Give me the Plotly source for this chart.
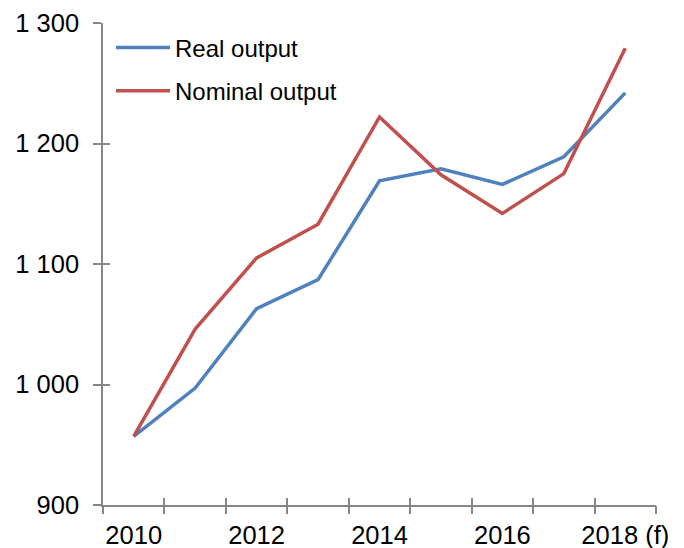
import plotly.graph_objects as go

years = ["2010", "2011", "2012", "2013", "2014", "2015", "2016", "2017", "2018 (f)"]
label_years = ["2010", "2012", "2014", "2016", "2018 (f)"]
real_output = [957, 997, 1063, 1087, 1169, 1179, 1166, 1189, 1242]
nominal_output = [957, 1046, 1105, 1133, 1222, 1174, 1142, 1175, 1279]
y_ticks = [900, 1000, 1100, 1200, 1300]

FAMILY = "Liberation Sans, Arial, sans-serif"
TICKFONT = dict(family=FAMILY, size=25.5, color="#000000")
LEGFONT = dict(family=FAMILY, size=24, color="#000000")
AX = "#868686"

fig = go.Figure()
fig.add_trace(go.Scatter(x=years, y=real_output, mode="lines", name="Real output",
                         line=dict(color="#4F81BD", width=3.5), legendgroup="a"))
fig.add_trace(go.Scatter(x=years, y=nominal_output, mode="lines", name="Nominal output",
                         line=dict(color="#C0504D", width=3.5), legendgroup="b"))

cat_common = dict(type="category", categoryorder="array", categoryarray=years,
                  range=[-0.5, len(years) - 0.5], showgrid=False, zeroline=False,
                  automargin=False)

# page body has an 8px default margin, so the figure is 8px smaller than the window
fig.update_layout(
    width=676, height=540,
    margin=dict(l=95, r=28, t=15, b=43),
    paper_bgcolor="white", plot_bgcolor="white",
    font=TICKFONT,
    separators=". ",
    showlegend=True,
    legend=dict(x=0.0145, y=0.995, xanchor="left", yanchor="top",
                bgcolor="rgba(0,0,0,0)", font=LEGFONT, itemwidth=54,
                traceorder="grouped", tracegroupgap=9),
    xaxis=dict(**cat_common, tickmode="array", tickvals=label_years, ticktext=label_years,
               ticks="", showline=True, linecolor=AX, linewidth=1.5,
               tickfont=TICKFONT, ticklabelstandoff=7),
    xaxis2=dict(**cat_common, overlaying="x", anchor="y", side="bottom",
                tickson="boundaries", ticks="outside", ticklen=8, tickcolor=AX, tickwidth=1.5,
                showticklabels=False, showline=False),
    xaxis3=dict(**cat_common, overlaying="x", anchor="y", side="bottom",
                tickson="boundaries", ticks="inside", ticklen=7, tickcolor=AX, tickwidth=1.5,
                showticklabels=False, showline=False),
    yaxis=dict(range=[900, 1300], tickmode="array", tickvals=y_ticks, tickformat=",d",
               ticks="outside", ticklen=8, tickcolor=AX, tickwidth=1.5, automargin=False,
               showline=True, linecolor=AX, linewidth=1.5, showgrid=False, zeroline=False,
               tickfont=TICKFONT, ticklabelstandoff=9),
    yaxis2=dict(range=[900, 1300], overlaying="y", anchor="x", side="left",
                tickmode="array", tickvals=y_ticks, ticks="inside", ticklen=7, automargin=False,
                tickcolor=AX, tickwidth=1.5, showticklabels=False, showline=False,
                showgrid=False, zeroline=False),
)

# invisible traces to activate overlay axes
fig.add_trace(go.Scatter(x=[years[0]], y=[None], xaxis="x2", yaxis="y", showlegend=False,
                         hoverinfo="skip"))
fig.add_trace(go.Scatter(x=[years[0]], y=[None], xaxis="x3", yaxis="y2", showlegend=False,
                         hoverinfo="skip"))

fig.write_html("out.html")
